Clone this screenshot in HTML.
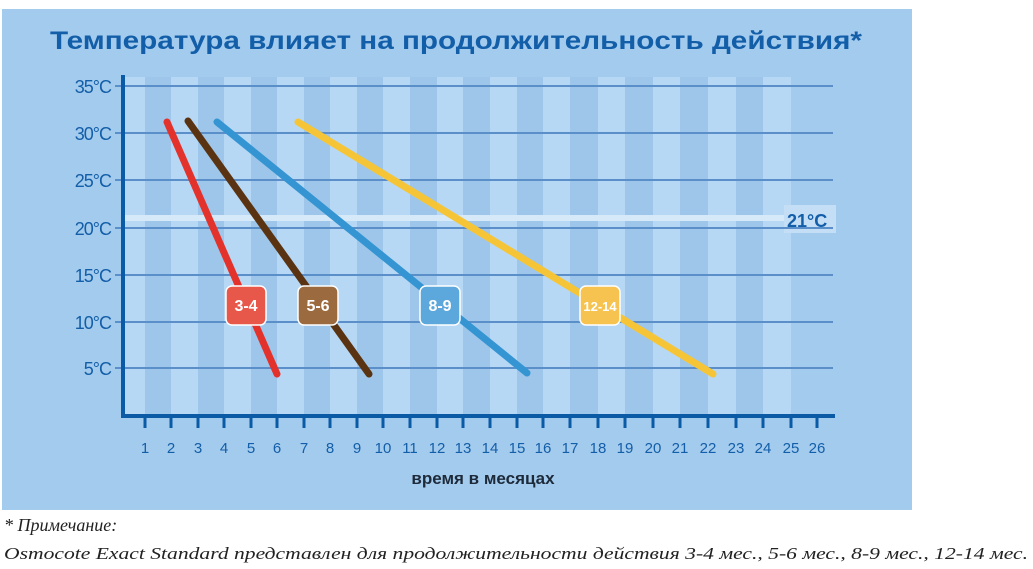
<!DOCTYPE html>
<html><head><meta charset="utf-8"><style>
body{margin:0;background:#fff;width:1033px;height:569px;overflow:hidden}
svg{display:block}
</style></head><body>
<svg width="1033" height="569" xmlns="http://www.w3.org/2000/svg" font-family="Liberation Sans, DejaVu Sans, sans-serif">
<rect x="2" y="9" width="910" height="501" fill="#a3cbed"/>
<text x="50" y="49" font-size="25" font-weight="bold" fill="#135ea8" textLength="812" lengthAdjust="spacingAndGlyphs">Температура влияет на продолжительноcть действия*</text>
<g fill="#b7d8f4">
<rect x="124" y="77" width="21" height="339"/>
<rect x="171" y="77" width="27" height="339"/>
<rect x="224" y="77" width="27" height="339"/>
<rect x="277" y="77" width="27" height="339"/>
<rect x="330" y="77" width="27" height="339"/>
<rect x="383" y="77" width="27" height="339"/>
<rect x="437" y="77" width="26" height="339"/>
<rect x="490" y="77" width="27" height="339"/>
<rect x="543" y="77" width="27" height="339"/>
<rect x="598" y="77" width="27" height="339"/>
<rect x="653" y="77" width="27" height="339"/>
<rect x="708" y="77" width="28" height="339"/>
<rect x="763" y="77" width="28" height="339"/>
</g>
<g fill="#9dc6ea">
<rect x="145" y="77" width="26" height="339"/>
<rect x="198" y="77" width="26" height="339"/>
<rect x="251" y="77" width="26" height="339"/>
<rect x="304" y="77" width="26" height="339"/>
<rect x="357" y="77" width="26" height="339"/>
<rect x="410" y="77" width="27" height="339"/>
<rect x="463" y="77" width="27" height="339"/>
<rect x="517" y="77" width="26" height="339"/>
<rect x="570" y="77" width="28" height="339"/>
<rect x="625" y="77" width="28" height="339"/>
<rect x="680" y="77" width="28" height="339"/>
<rect x="736" y="77" width="27" height="339"/>
</g>
<rect x="124" y="215" width="660" height="6" fill="#d6e9f9"/>
<rect x="784" y="205" width="52" height="28" fill="#c3def5"/>
<g stroke="#5a8fca" stroke-width="2">
<line x1="115" y1="86" x2="833" y2="86"/>
<line x1="115" y1="133" x2="833" y2="133"/>
<line x1="115" y1="180" x2="833" y2="180"/>
<line x1="115" y1="228" x2="833" y2="228"/>
<line x1="115" y1="275" x2="833" y2="275"/>
<line x1="115" y1="322" x2="833" y2="322"/>
<line x1="115" y1="368" x2="833" y2="368"/>
</g>
<text x="787" y="227" font-size="18" font-weight="bold" fill="#135ea8">21°C</text>
<g font-size="18" fill="#135ea8" text-anchor="end" letter-spacing="-1">
<text x="111" y="93">35°C</text>
<text x="111" y="140">30°C</text>
<text x="111" y="187">25°C</text>
<text x="111" y="235">20°C</text>
<text x="111" y="282">15°C</text>
<text x="111" y="329">10°C</text>
<text x="111" y="375">5°C</text>
</g>
<g stroke="#0b5aa6" stroke-width="4">
<line x1="123" y1="75" x2="123" y2="418"/>
<line x1="121" y1="416" x2="835" y2="416"/>
</g>
<g stroke="#0b5aa6" stroke-width="3">
<line x1="145" y1="416" x2="145" y2="428"/><line x1="171" y1="416" x2="171" y2="428"/><line x1="198" y1="416" x2="198" y2="428"/><line x1="224" y1="416" x2="224" y2="428"/><line x1="251" y1="416" x2="251" y2="428"/><line x1="277" y1="416" x2="277" y2="428"/><line x1="304" y1="416" x2="304" y2="428"/><line x1="330" y1="416" x2="330" y2="428"/><line x1="357" y1="416" x2="357" y2="428"/><line x1="383" y1="416" x2="383" y2="428"/><line x1="410" y1="416" x2="410" y2="428"/><line x1="437" y1="416" x2="437" y2="428"/><line x1="463" y1="416" x2="463" y2="428"/><line x1="490" y1="416" x2="490" y2="428"/><line x1="517" y1="416" x2="517" y2="428"/><line x1="543" y1="416" x2="543" y2="428"/><line x1="570" y1="416" x2="570" y2="428"/><line x1="598" y1="416" x2="598" y2="428"/><line x1="625" y1="416" x2="625" y2="428"/><line x1="653" y1="416" x2="653" y2="428"/><line x1="680" y1="416" x2="680" y2="428"/><line x1="708" y1="416" x2="708" y2="428"/><line x1="736" y1="416" x2="736" y2="428"/><line x1="763" y1="416" x2="763" y2="428"/><line x1="791" y1="416" x2="791" y2="428"/><line x1="817" y1="416" x2="817" y2="428"/>
</g>
<g font-size="15" fill="#135ea8" text-anchor="middle">
<text x="145" y="453">1</text><text x="171" y="453">2</text><text x="198" y="453">3</text><text x="224" y="453">4</text><text x="251" y="453">5</text><text x="277" y="453">6</text><text x="304" y="453">7</text><text x="330" y="453">8</text><text x="357" y="453">9</text><text x="383" y="453">10</text><text x="410" y="453">11</text><text x="437" y="453">12</text><text x="463" y="453">13</text><text x="490" y="453">14</text><text x="517" y="453">15</text><text x="543" y="453">16</text><text x="570" y="453">17</text><text x="598" y="453">18</text><text x="625" y="453">19</text><text x="653" y="453">20</text><text x="680" y="453">21</text><text x="708" y="453">22</text><text x="736" y="453">23</text><text x="763" y="453">24</text><text x="791" y="453">25</text><text x="817" y="453">26</text>
</g>
<text x="483" y="484" font-size="17" font-weight="bold" fill="#1d2a3a" text-anchor="middle">время в месяцах</text>
<g stroke-width="7" stroke-linecap="round">
<line x1="167" y1="122" x2="277" y2="374" stroke="#e3322b"/>
<line x1="188" y1="121" x2="369" y2="374" stroke="#5a3412"/>
<line x1="217" y1="122" x2="527" y2="373" stroke="#3595d2"/>
<line x1="298" y1="122" x2="713" y2="374" stroke="#f6c537"/>
</g>
<g stroke="#fff" stroke-width="1.5">
<rect x="226" y="286" width="40" height="39" rx="6" fill="#e8584a"/>
<rect x="298" y="286" width="40" height="39" rx="6" fill="#9c6a3f"/>
<rect x="420" y="286" width="40" height="39" rx="6" fill="#5ca8dc"/>
<rect x="580" y="286" width="40" height="39" rx="6" fill="#f6c350"/>
</g>
<g font-size="16" font-weight="bold" fill="#fff" text-anchor="middle">
<text x="246" y="311">3-4</text>
<text x="318" y="311">5-6</text>
<text x="440" y="311">8-9</text>
<text x="600" y="311" font-size="13">12-14</text>
</g>
<g font-family="Liberation Serif, DejaVu Serif, serif" font-style="italic" font-size="17" fill="#222">
<text x="4" y="531" font-size="18">* Примечание:</text>
<text x="4" y="559" textLength="1024" lengthAdjust="spacingAndGlyphs">Osmocote Exact Standard представлен для продолжительности действия 3-4 мес., 5-6 мес., 8-9 мес., 12-14 мес.</text>
</g>
</svg>
</body></html>
